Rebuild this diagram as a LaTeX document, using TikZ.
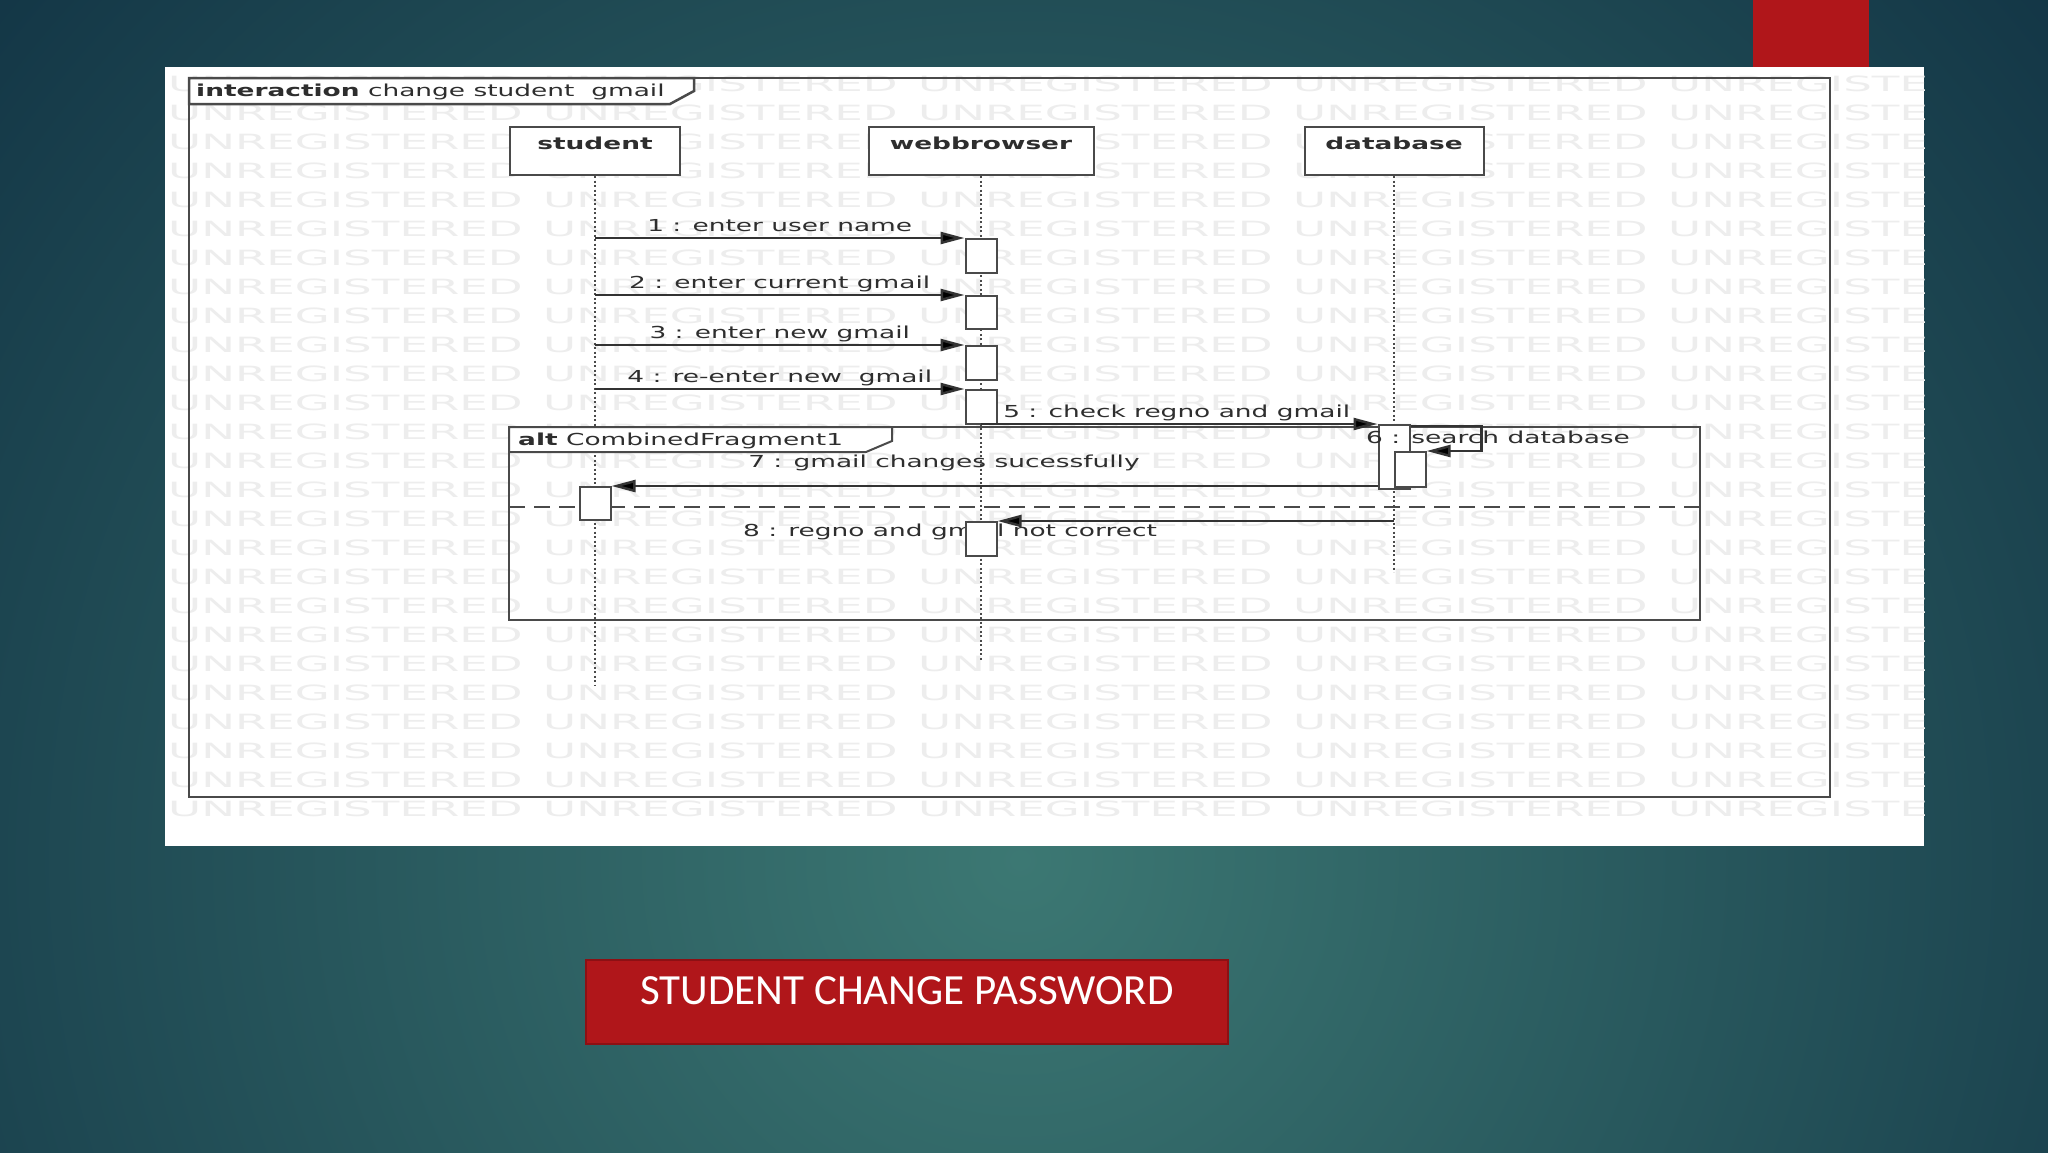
\documentclass[tikz,border=0pt]{standalone}
\usepackage{fontspec}
\usetikzlibrary{arrows.meta, calc}
\newfontfamily\umlfont[FakeStretch=1.6]{DejaVu Sans}
\newfontfamily\wmfont[FakeStretch=2.15]{DejaVu Sans}
\newfontfamily\titlefont{Carlito}
\definecolor{bgdark}{HTML}{133646}
\definecolor{bgmid}{HTML}{3C7873}
\definecolor{slidered}{HTML}{B0161A}
\definecolor{reddark}{HTML}{8C1014}
\definecolor{umlline}{HTML}{4A4A4A}
\definecolor{umltext}{HTML}{2E2E2E}
\definecolor{msgline}{HTML}{333333}
\definecolor{wmgray}{HTML}{EDEDED}

\begin{document}
\begin{tikzpicture}[x=1pt, y=-1pt,
  umltxt/.style={font=\umlfont\fontsize{16.5}{19}\selectfont, text=umltext, inner sep=0pt},
  head/.style={umltxt, font=\umlfont\bfseries\fontsize{16.5}{19}\selectfont, draw=umlline, line width=2pt, fill=white, anchor=north, inner ysep=2pt, text height=20pt, text depth=24pt},
  act/.style={draw=umlline, line width=2pt, fill=white, minimum width=31pt, inner sep=0pt, anchor=north},
  life/.style={umlline, line width=2pt, dash pattern=on 2pt off 2.5pt},
  msg/.style={msgline, line width=2.5pt, -{Triangle[length=24pt, width=12pt, fill=black]}},
  lbl/.style={umltxt, anchor=base},
  frm/.style={umlline, line width=2.5pt},
  wm/.style={font=\wmfont\fontsize{21}{24}\selectfont, text=wmgray, anchor=west, inner sep=0pt},
  titlebox/.style={fill=slidered, draw=reddark, line width=2.5pt, text=white, font=\titlefont\fontsize{43}{50}\selectfont, minimum width=642pt, inner sep=0pt, text height=44pt, text depth=40pt}
]
\useasboundingbox (0,0) rectangle (2048,1152);

% slide background
\begin{scope}
  \clip (0,0) rectangle (2048,1152);
  \fill[bgdark] (0,0) rectangle (2048,1152);
  \shade[inner color=bgmid, outer color=bgdark] (1020,860) circle [radius=1350pt];
\end{scope}
\fill[slidered] (1753,0) rectangle (1869,67);
\fill[white] (165,67) rectangle (1924,846);

% watermark
\begin{scope}
  \clip (165,67) rectangle (1924,846);
  \foreach \row in {0,...,25}
    \foreach \col in {0,...,4}
      \node[wm] at (168+375*\col, 84+29*\row) {UNREGISTERED};
\end{scope}

% interaction frame
\draw[frm] (189,78) rectangle (1830,797);
\draw[frm, fill=white] (189,78) -- (694,78) -- (694,91) -- (670,104) -- (189,104) -- cycle;
\node[umltxt, anchor=base west] (frametitle) at (196,96) {\textbf{interaction} change student~ gmail};

% lifelines
\node[head, minimum width=170pt] (student) at (595,126) {student};
\node[head, minimum width=225pt] (webbrowser) at (981,126) {webbrowser};
\node[head, minimum width=179pt] (database) at (1394,126) {database};

\coordinate (studentend) at (595,686);
\coordinate (webend) at (981,660);
\coordinate (dbend) at (1394,572);
\draw[life] (student.south) -- (studentend);
\draw[life] (webbrowser.south) -- (webend);
\draw[life] (database.south) -- (dbend);

% alt fragment
\draw[frm, line width=2pt] (509,427) rectangle (1700,620);
\draw[frm, line width=2pt, dash pattern=on 16pt off 9pt] (509,507) -- (1700,507);
\draw[frm, line width=2pt, fill=white] (509,427) -- (892,427) -- (892,441) -- (866,452) -- (509,452) -- cycle;
\node[umltxt, anchor=base west] (alttitle) at (518,445) {\textbf{alt} CombinedFragment1};

\node[lbl] (m8) at (950,536) {8 : regno and gmail not correct};

% activations
\node[act, minimum height=34pt] (w1) at (981,238) {};
\node[act, minimum height=33pt] (w2) at (981,295) {};
\node[act, minimum height=34pt] (w3) at (981,345) {};
\node[act, minimum height=34pt] (w4) at (981,389) {};
\node[act, minimum height=64pt] (d5) at (1394,424) {};
\node[act, minimum height=35pt] (d6) at (1410,451) {};
\node[act, minimum height=33pt] (s7) at (595,486) {};
\node[act, minimum height=34pt] (w8) at (981,521) {};

% messages
\draw[msg] (student |- w1.north west) -- (w1.north west) node[lbl, midway, yshift=7pt] {1 : enter user name};
\draw[msg] (student |- w2.north west) -- (w2.north west) node[lbl, midway, yshift=7pt] {2 : enter current gmail};
\draw[msg] (student |- w3.north west) -- (w3.north west) node[lbl, midway, yshift=7pt] {3 : enter new gmail};
\draw[msg] (student |- w4.north west) -- (w4.north west) node[lbl, midway, yshift=7pt] {4 : re-enter new~ gmail};
\draw[msg] (webbrowser |- d5.north west) -- (d5.north west) node[lbl, pos=0, anchor=base west, xshift=21pt, yshift=7pt] {5 : check regno and gmail};
\draw[msg] ([yshift=-2pt]d5.north east) -- ++(71,0) |- (d6.north east);
\node[lbl, anchor=base west] (m6) at (1366,443) {6 : search database};
\draw[msg] (d5.west |- s7.north east) -- (s7.north east) node[lbl, pos=0.566, yshift=19pt] {7 : gmail changes sucessfully};
\draw[msg] (database |- w8.north east) -- (w8.north east);

\node[titlebox] (title) at (907,1002) {STUDENT CHANGE PASSWORD};
\end{tikzpicture}
\end{document}
